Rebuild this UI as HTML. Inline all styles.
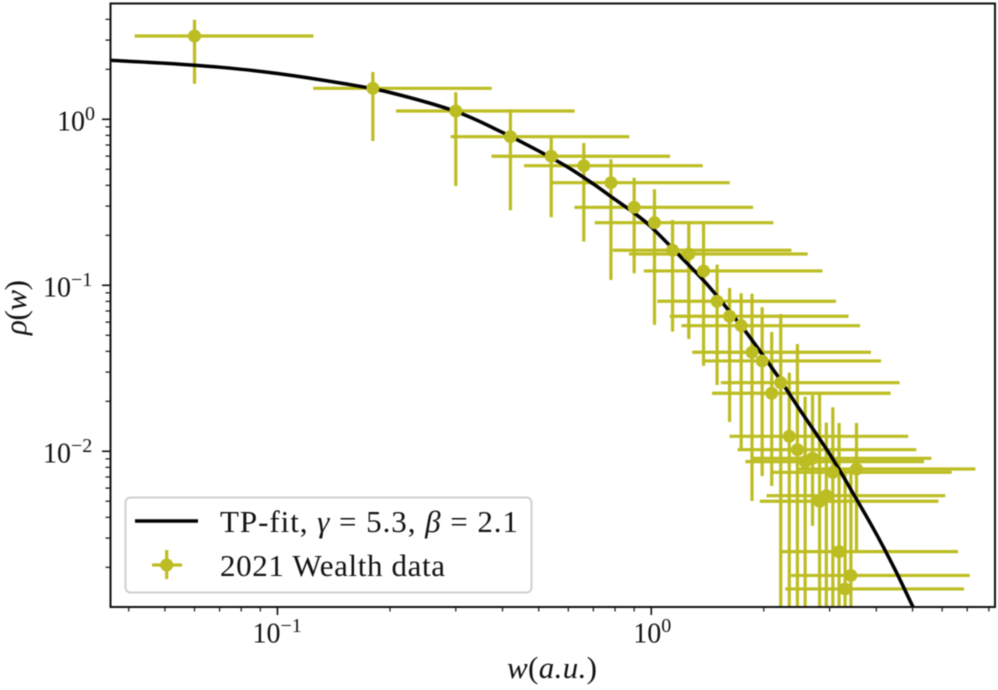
<!DOCTYPE html>
<html lang="en">
<head>
<meta charset="utf-8">
<title>Wealth distribution fit</title>
<style>
html,body{margin:0;padding:0;background:#fff;}
body{width:998px;height:690px;overflow:hidden;}
svg{display:block;filter:blur(0.45px);}
text{font-family:"Liberation Serif","DejaVu Serif",serif;fill:#111;}
</style>
</head>
<body>
<svg id="chart" xmlns="http://www.w3.org/2000/svg" width="998" height="690" viewBox="0 0 998 690">
  <defs>
    <clipPath id="plot-clip"><rect x="110" y="3.5" width="885" height="603.5"></rect></clipPath>
  </defs>
  <rect x="0" y="0" width="998" height="690" fill="#fff"></rect>
  <g id="ticks"></g>
  <g id="tick-labels"></g>
  <g id="plot" clip-path="url(#plot-clip)">
    <g id="x-bars"></g>
    <g id="y-bars"></g>
    <path id="fit" fill="none" stroke="#000" stroke-width="3.5" stroke-linejoin="round"></path>
    <g id="markers"></g>
  </g>
  <rect x="110.5" y="3.5" width="884.5" height="603.5" fill="none" stroke="#111" stroke-width="2"></rect>

  <g>
    <rect x="125.5" y="497.5" width="406" height="95" rx="5" ry="5" fill="#fff" fill-opacity="0.8" stroke="#d0d0d0" stroke-width="2"></rect>
    <line x1="135" y1="521" x2="198" y2="521" stroke="#000" stroke-width="3.5"></line>
    <text x="220" y="532" font-size="31" textLength="298" lengthAdjust="spacing">TP-fit, <tspan font-style="italic">γ</tspan> = 5.3, <tspan font-style="italic">β</tspan> = 2.1</text>
    <line x1="152" y1="565" x2="182" y2="565" stroke="#bcbd22" stroke-width="3.2"></line>
    <line x1="166.7" y1="550" x2="166.7" y2="579" stroke="#bcbd22" stroke-width="3.2"></line>
    <circle cx="166.7" cy="565" r="6.5" fill="#bcbd22"></circle>
    <text x="220" y="576" font-size="31" textLength="225" lengthAdjust="spacing">2021 Wealth data</text>
  </g>

  <text x="507" y="678" font-size="31" textLength="90" lengthAdjust="spacing"><tspan font-style="italic">w</tspan>(<tspan font-style="italic">a.u.</tspan>)</text>
  <text transform="translate(26,335) rotate(-90)" x="0" y="0" font-size="31" textLength="55" lengthAdjust="spacing"><tspan font-style="italic">ρ</tspan>(<tspan font-style="italic">w</tspan>)</text>
</svg>

<script>
const wealth = [0.06,0.18,0.30,0.42,0.54,0.66,0.78,0.90,1.02,1.14,1.26,1.38,1.50,1.62,1.74,1.86,1.98,2.10,2.22,2.34,2.46,2.58,2.70,2.82,2.94,3.06,3.18,3.30,3.42,3.54];
const wealthLow = [0.0415,0.1246,0.2076,0.2906,0.3737,0.4567,0.5398,0.6228,0.7058,0.7889,0.8719,0.955,1.038,1.121,1.204,1.287,1.370,1.453,1.536,1.619,1.702,1.785,1.868,1.951,2.034,2.117,2.200,2.283,2.367,2.450];
const wealthHigh = [0.1248,0.3744,0.624,0.8736,1.123,1.373,1.622,1.872,2.122,2.371,2.621,2.870,3.120,3.370,3.619,3.869,4.118,4.368,4.618,4.867,5.117,5.366,5.616,5.866,6.115,6.365,6.614,6.864,7.114,7.363];
const density = [3.175,1.537,1.122,0.7855,0.5986,0.5254,0.4150,0.2950,0.2383,0.1625,0.1544,0.1220,0.0801,0.0651,0.0571,0.0395,0.0350,0.02236,0.0259,0.01231,0.01022,0.00866,0.00907,0.00500,0.00540,0.00747,0.002485,0.001481,0.001786,0.00782];
const densityHigh = [3.981,1.927,1.454,1.149,0.8043,0.7199,0.5742,0.4448,0.3788,0.2473,0.2340,0.2340,0.1331,0.0963,0.0895,0.0890,0.0737,0.0523,0.0672,0.02975,0.0443,0.02132,0.02184,0.02204,0.01487,0.01842,0.01481,0.00772,0.00772,0.01481];
const densityLow = [1.638,0.7402,0.3965,0.2831,0.2569,0.1831,0.1076,0.1181,0.0577,0.0526,0.0475,0.0327,0.02509,0.01502,0.01018,0.00502,0.00710,0.00618,0.0005,0.0005,0.0005,0.0005,0.00355,0.0005,0.0005,0.0005,0.0005,0.0005,0.0005,0.002485];
const fitWealth = [0.03565,0.05,0.07,0.1,0.15,0.2,0.3,0.4,0.5,0.6,0.7,0.8,0.9,1,1.2,1.4,1.6,1.8,2,2.2,2.5,3,3.5,4,4.5,5,5.2];
const fitDensity = [2.267,2.177,2.060,1.888,1.643,1.450,1.114,0.8329,0.6442,0.5124,0.4076,0.3288,0.2726,0.2245,0.1481,0.1032,0.0720,0.0516,0.03725,0.02746,0.01773,0.00963,0.00538,0.003176,0.001914,0.001170,0.000990];
const xTickExponents = [-1,0];
const yTickExponents = [0,-1,-2];
const xDomain = [0.03565,8.309];
const yDomain = [0.001153,4.984];

const NS = 'http://www.w3.org/2000/svg';
const OLIVE = '#bcbd22';
const plotLeft = 110, plotRight = 995, plotTop = 3.5, plotBottom = 607;

function xScale(v) {
  const a = Math.log10(xDomain[0]), b = Math.log10(xDomain[1]);
  return plotLeft + (Math.log10(v) - a) / (b - a) * (plotRight - plotLeft);
}
function yScale(v) {
  const a = Math.log10(yDomain[0]), b = Math.log10(yDomain[1]);
  return plotBottom - (Math.log10(v) - a) / (b - a) * (plotBottom - plotTop);
}
function makeLine(x1, y1, x2, y2, stroke, width) {
  const l = document.createElementNS(NS, 'line');
  l.setAttribute('x1', x1.toFixed(2));
  l.setAttribute('y1', y1.toFixed(2));
  l.setAttribute('x2', x2.toFixed(2));
  l.setAttribute('y2', y2.toFixed(2));
  l.setAttribute('stroke', stroke);
  l.setAttribute('stroke-width', width);
  return l;
}

const xBars = document.getElementById('x-bars');
const yBars = document.getElementById('y-bars');
const markers = document.getElementById('markers');
wealth.forEach(function (w, i) {
  const cy = yScale(density[i]);
  const cx = xScale(w);
  const hb = makeLine(xScale(wealthLow[i]), cy, xScale(wealthHigh[i]), cy, OLIVE, 3.2);
  
  
  xBars.appendChild(hb);
  const vb = makeLine(cx, yScale(densityHigh[i]), cx, yScale(densityLow[i]), OLIVE, 3.2);
  
  
  yBars.appendChild(vb);
  const m = document.createElementNS(NS, 'circle');
  m.setAttribute('cx', cx.toFixed(2));
  m.setAttribute('cy', cy.toFixed(2));
  m.setAttribute('r', '6.5');
  m.setAttribute('fill', OLIVE);
  
  
  markers.appendChild(m);
});

const fitPoints = fitWealth.map(function (w, i) {
  return [xScale(w), yScale(fitDensity[i])];
});
let fitPath = 'M' + fitPoints[0][0].toFixed(2) + ' ' + fitPoints[0][1].toFixed(2);
for (let i = 0; i < fitPoints.length - 1; i++) {
  const p0 = fitPoints[Math.max(i - 1, 0)];
  const p1 = fitPoints[i];
  const p2 = fitPoints[i + 1];
  const p3 = fitPoints[Math.min(i + 2, fitPoints.length - 1)];
  const c1x = p1[0] + (p2[0] - p0[0]) / 6;
  const c1y = p1[1] + (p2[1] - p0[1]) / 6;
  const c2x = p2[0] - (p3[0] - p1[0]) / 6;
  const c2y = p2[1] - (p3[1] - p1[1]) / 6;
  fitPath += ' C' + c1x.toFixed(2) + ' ' + c1y.toFixed(2) + ' ' + c2x.toFixed(2) + ' ' + c2y.toFixed(2) + ' ' + p2[0].toFixed(2) + ' ' + p2[1].toFixed(2);
}
document.getElementById('fit').setAttribute('d', fitPath);

const ticks = document.getElementById('ticks');
for (let e = -2; e <= 1; e++) {
  for (let k = 1; k <= 9; k++) {
    const v = k * Math.pow(10, e);
    if (v < xDomain[0] || v > xDomain[1]) continue;
    const p = xScale(v);
    const len = k === 1 ? 8 : 4.5;
    const t = makeLine(p, plotBottom, p, plotBottom + len, '#111', k === 1 ? 1.6 : 1.2);
    
    
    ticks.appendChild(t);
  }
}
for (let e = -3; e <= 0; e++) {
  for (let k = 1; k <= 9; k++) {
    const v = k * Math.pow(10, e);
    if (v < yDomain[0] || v > yDomain[1]) continue;
    const p = yScale(v);
    const len = k === 1 ? 8 : 4.5;
    const t = makeLine(plotLeft - len, p, plotLeft, p, '#111', k === 1 ? 1.6 : 1.2);
    
    
    ticks.appendChild(t);
  }
}

function makePower(startX, baseline, exponent) {
  const g = document.createElementNS(NS, 'g');
  const b = document.createElementNS(NS, 'text');
  b.setAttribute('x', startX.toFixed(2));
  b.setAttribute('y', baseline.toFixed(2));
  b.setAttribute('font-size', '28');
  b.textContent = '10';
  g.appendChild(b);
  const s = document.createElementNS(NS, 'text');
  const sup = exponent < 0 ? '\u2212' + Math.abs(exponent) : String(exponent);
  s.setAttribute('x', (startX + 28).toFixed(2));
  s.setAttribute('y', (baseline - 10.5).toFixed(2));
  s.setAttribute('font-size', '20');
  s.textContent = sup;
  g.appendChild(s);
  return g;
}
function powerWidth(exponent) {
  return exponent < 0 ? 53 : 39;
}
const labels = document.getElementById('tick-labels');
xTickExponents.forEach(function (ex) {
  const c = xScale(Math.pow(10, ex));
  const g = makePower(c - powerWidth(ex) / 2 + 1.5, 642.7, ex);
  
  
  labels.appendChild(g);
});
yTickExponents.forEach(function (ex) {
  const c = yScale(Math.pow(10, ex));
  const g = makePower(96 - powerWidth(ex), c + 11, ex);
  
  
  labels.appendChild(g);
});
</script>
</body>
</html>
